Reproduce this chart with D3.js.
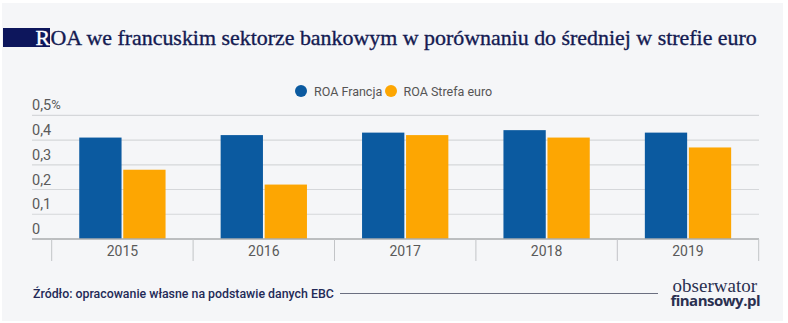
<!DOCTYPE html>
<html>
<head>
<meta charset="utf-8">
<script src="https://cdn.jsdelivr.net/npm/d3@7/dist/d3.min.js"></script>
<style>
  html, body { margin: 0; padding: 0; background: #ffffff; }
  svg { display: block; }
</style>
</head>
<body>
<svg id="chart" width="788" height="323"></svg>
<script>
// ROA data (%), France vs. euro-area average
const years = ["2015", "2016", "2017", "2018", "2019"];
const seriesNames = ["ROA Francja", "ROA Strefa euro"];
const roaFrancja = [0.41, 0.42, 0.43, 0.44, 0.43];
const roaStrefaEuro = [0.28, 0.22, 0.42, 0.41, 0.37];
const yTicks = [0, 0.1, 0.2, 0.3, 0.4, 0.5];

const titleLead = "R";
const titleRest = "OA we francuskim sektorze bankowym w porównaniu do średniej w strefie euro";
const sourceText = "Źródło: opracowanie własne na podstawie danych EBC";

const colors = { "ROA Francja": "#0b5aa0", "ROA Strefa euro": "#fda602" };

const rows = years.map((y, i) => ({
  year: y,
  values: [
    { name: seriesNames[0], value: roaFrancja[i] },
    { name: seriesNames[1], value: roaStrefaEuro[i] }
  ]
}));

const svg = d3.select("#chart");

// panel background
svg.append("rect").attr("x", 2).attr("y", 3).attr("width", 781).attr("height", 318)
  .attr("fill", "#f5f6f8");

// title with the boxed initial
const titleFont = "'Liberation Serif', 'Times New Roman', serif";
const titleColor = "#141b52";
svg.append("rect").attr("x", 3).attr("y", 28).attr("width", 47).attr("height", 19)
  .attr("fill", "#0d165c");
const titleRestEl = svg.append("text")
  .attr("x", 50.5).attr("y", 45)
  .attr("font-family", titleFont)
  .attr("font-size", 20)
  .attr("fill", titleColor)
  .attr("stroke", titleColor).attr("stroke-width", 0.35)
  .text(titleRest);
// fit the title to the panel width
const tw = titleRestEl.node().getComputedTextLength();
const fs = 20 * (757 - 50.5) / tw;
titleRestEl.attr("font-size", fs.toFixed(2));
svg.append("text")
  .attr("x", 50).attr("y", 45).attr("text-anchor", "end")
  .attr("font-family", titleFont)
  .attr("font-size", fs.toFixed(2))
  .attr("fill", "#ffffff")
  .attr("stroke", "#ffffff").attr("stroke-width", 0.35)
  .text(titleLead);

// scales
const plotLeft = 32, plotRight = 759;
const y = d3.scaleLinear().domain([0, 0.5]).range([239, 115.3]);
const x0 = d3.scaleBand().domain(years).range([51.7, 758.7]).paddingInner(0).paddingOuter(0);
const x1 = d3.scaleBand().domain(seriesNames).range([0, x0.bandwidth()])
  .paddingInner(0.0386).paddingOuter(0.626);

const locale = d3.formatLocale({ decimal: ",", thousands: " ", grouping: [3], currency: ["", " zł"] });
const fmt = locale.format(".1~f");

const labelFont = "Roboto, 'Noto Sans', sans-serif";
const labelColor = "#5a5a5a";

// gridlines and y labels
const grid = svg.append("g");
yTicks.forEach(t => {
  if (t > 0) {
    grid.append("line")
      .attr("x1", plotLeft).attr("x2", plotRight)
      .attr("y1", y(t)).attr("y2", y(t))
      .attr("stroke", "#d5d7da").attr("stroke-width", 1.2);
  }
  const lbl = grid.append("text")
    .attr("x", plotLeft).attr("y", y(t) - 5)
    .attr("font-family", labelFont).attr("font-size", 14.5)
    .attr("fill", labelColor)
    .text(fmt(t));
  if (t === 0.5) lbl.append("tspan").attr("font-size", 13).attr("dy", -1.5).text("%");
});

// bars
const groups = svg.append("g").selectAll("g").data(rows).join("g")
  .attr("transform", d => `translate(${x0(d.year)},0)`);
groups.selectAll("rect").data(d => d.values).join("rect")
  .attr("x", d => x1(d.name))
  .attr("y", d => y(d.value))
  .attr("width", x1.bandwidth())
  .attr("height", d => y(0) - y(d.value))
  .attr("fill", d => colors[d.name]);

// baseline
svg.append("line").attr("x1", plotLeft).attr("x2", plotRight)
  .attr("y1", y(0)).attr("y2", y(0))
  .attr("stroke", "#a9abae").attr("stroke-width", 1.3);

// category separators
const bounds = years.map(d => x0(d)).concat([x0(years[years.length - 1]) + x0.bandwidth()]);
svg.append("g").selectAll("line").data(bounds).join("line")
  .attr("x1", d => d).attr("x2", d => d)
  .attr("y1", y(0)).attr("y2", y(0) + 22)
  .attr("stroke", "#c2c4c7").attr("stroke-width", 1);

// category labels
svg.append("g").selectAll("text").data(years).join("text")
  .attr("x", d => x0(d) + x0.bandwidth() / 2)
  .attr("y", 255.5)
  .attr("text-anchor", "middle")
  .attr("font-family", labelFont).attr("font-size", 14)
  .attr("fill", labelColor)
  .text(d => d);

// legend
const legendItems = [
  { name: seriesNames[0], cx: 301, tx: 314 },
  { name: seriesNames[1], cx: 391, tx: 403.5 }
];
const legend = svg.append("g");
legendItems.forEach(it => {
  legend.append("circle").attr("cx", it.cx).attr("cy", 91).attr("r", 6)
    .attr("fill", colors[it.name]);
  legend.append("text").attr("x", it.tx).attr("y", 95.5)
    .attr("font-family", labelFont).attr("font-size", 12.5)
    .attr("fill", "#555555")
    .text(it.name);
});

// source note with rule
const src = svg.append("text").attr("x", 33).attr("y", 297.5)
  .attr("font-family", labelFont).attr("font-size", 12.5).attr("font-weight", 500)
  .attr("fill", "#232a57")
  .text(sourceText);
const sw = src.node().getComputedTextLength();
src.attr("font-size", (12.5 * 301 / sw).toFixed(2));
svg.append("line").attr("x1", 340).attr("x2", 658)
  .attr("y1", 293.5).attr("y2", 293.5)
  .attr("stroke", "#6b6f80").attr("stroke-width", 1);

// publisher mark
const mark1 = svg.append("text").attr("x", 757).attr("y", 292).attr("text-anchor", "end")
  .attr("font-family", titleFont).attr("font-size", 19)
  .attr("fill", "#2a3050")
  .text("obserwator");
const mark2 = svg.append("text").attr("x", 760).attr("y", 306).attr("text-anchor", "end")
  .attr("font-family", "'Open Sans', 'Noto Sans', sans-serif").attr("font-size", 15)
  .attr("font-weight", 700).attr("letter-spacing", -0.5)
  .attr("fill", "#2a3050")
  .text("finansowy.pl");
</script>
</body>
</html>
